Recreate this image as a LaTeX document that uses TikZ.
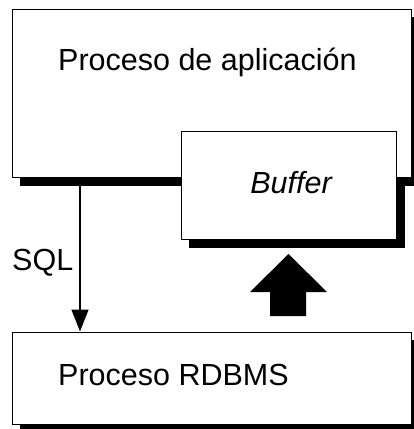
\documentclass[tikz,border=0pt]{standalone}
\usepackage{fontspec}
\setmainfont{Liberation Sans}
\usetikzlibrary{arrows.meta,backgrounds}
\begin{document}
\begin{tikzpicture}[x=1pt,y=-1pt,
  procbox/.style={draw=black,fill=white,line width=1pt,inner sep=0pt},
  shadowfill/.style={fill=black},
  lbl/.style={inner sep=0pt,font=\fontsize{30.5}{34}\selectfont},
  sqlarrow/.style={line width=1.5pt,-{Triangle[length=22pt,width=17pt]}}]
\useasboundingbox (0,0) rectangle (414,429);
\node[procbox,minimum width=399pt,minimum height=168pt] (top) at (211.5,93) {};
\node[procbox,minimum width=215pt,minimum height=108pt] (buf) at (288.5,185) {};
\node[procbox,minimum width=399pt,minimum height=92pt] (rdb) at (211.5,378) {};
\begin{scope}[on background layer]
  \fill[shadowfill] ([shift={(8,8)}]top.north west) rectangle ([shift={(8,8)}]top.south east);
  \fill[shadowfill] ([shift={(8,8)}]buf.north west) rectangle ([shift={(8,8)}]buf.south east);
  \fill[shadowfill] ([shift={(8,8)}]rdb.north west) rectangle ([shift={(8,8)}]rdb.south east);
\end{scope}
% redraw top box and buffer over the buffer shadow
\node[procbox,minimum width=399pt,minimum height=168pt] at (top) {};
\fill[shadowfill] ([shift={(8,8)}]top.south west) rectangle ([shift={(8,0)}]top.south east);
\node[procbox,minimum width=215pt,minimum height=108pt] at (buf) {};
\node[lbl,anchor=base west] (t1) at (58,70) {Proceso de aplicación};
\node[lbl,anchor=base] (t2) at (291,193) {\itshape Buffer};
\node[lbl,anchor=base west] (t3) at (58,385) {Proceso RDBMS};
\node[lbl,anchor=base west] (sql) at (12,270) {SQL};
\coordinate (s) at (80,186);
\draw[sqlarrow] (s) -- (s |- rdb.north);
\fill (270,316) -- (270,292) -- (250,292) -- (288.5,254) -- (327,292) -- (306,292) -- (306,316) -- cycle;
\end{tikzpicture}
\end{document}
